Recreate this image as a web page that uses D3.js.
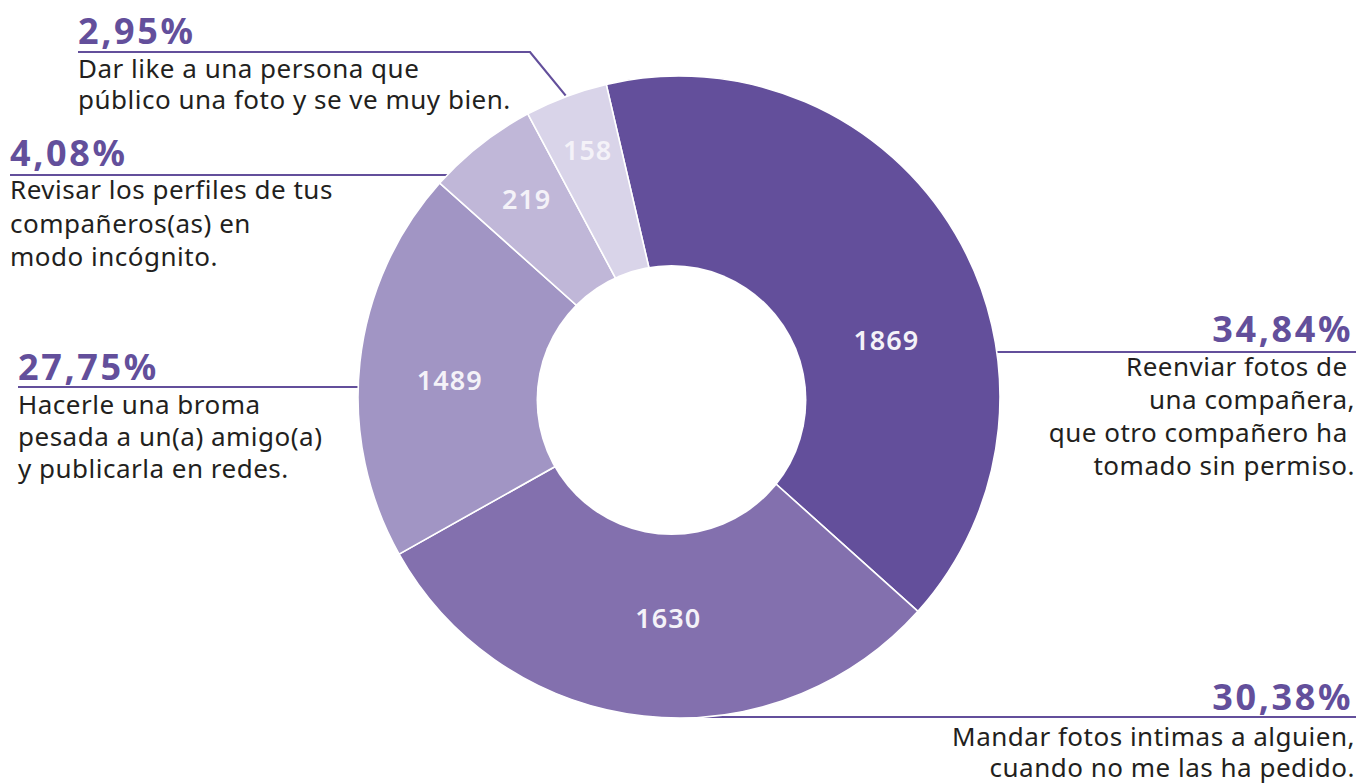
<!DOCTYPE html>
<html>
<head>
<meta charset="utf-8">
<script src="https://cdn.jsdelivr.net/npm/d3@7"></script>
<style>
body { margin: 0; background: #fff; }
text { font-family: "Noto Sans", sans-serif; }
</style>
</head>
<body>
<div id="grafico"></div>
<script>
const valores = [1869, 1630, 1489, 219, 158];
const porcentajes = ['34,84%', '30,38%', '27,75%', '4,08%', '2,95%'];
// amplitud (grados) de cada sector tal como está dibujado en el original
const grados = [145, 108.8, 71.1, 20.1, 15];
const descripciones = [
	['Reenviar fotos de ', 'una compañera,', 'que otro compañero ha ', 'tomado sin permiso.'],
	['Mandar fotos intimas a alguien,', 'cuando no me las ha pedido.'],
	['Hacerle una broma', 'pesada a un(a) amigo(a)', 'y publicarla en redes.'],
	['Revisar los perfiles de tus', 'compañeros(as) en', 'modo incógnito.'],
	['Dar like a una persona que', 'público una foto y se ve muy bien.']
];
const colores = ['#634f9b', '#8370ae', '#a195c4', '#c0b7d8', '#d9d4e9'];

const morado = '#634f9b';
const centro = {x: 679, y: 397};
const radio = 321;
const hueco = {x: 671.5, y: 400, r: 135};
const inicio = -13.1; // grados, desde arriba

// donde va cada bloque de texto
const bloques = [
	{ancla: 'end', x: 1353, xd: 1355, yPct: 342, yLinea: 352, extremo: 1356, yDesc: 376, paso: 33},
	{ancla: 'end', x: 1353, xd: 1355, yPct: 710, yLinea: 717, extremo: 1356, yDesc: 746, paso: 31},
	{ancla: 'start', x: 18, xd: 18, yPct: 380, yLinea: 387, extremo: 18, yDesc: 414, paso: 32},
	{ancla: 'start', x: 10, xd: 10, yPct: 166, yLinea: 175, extremo: 10, yDesc: 199, paso: 33.5},
	{ancla: 'start', x: 78, xd: 78, yPct: 44, yLinea: 52, extremo: 78, yDesc: 78, paso: 31, codo: 530}
];
// desplazamiento de los números dentro de cada sector
const ajuste = [{da: 15.2, r: 215}, {da: -3.5, r: 221}, {da: -1.8, r: 230}, {da: 0.6, r: 250}, {da: 0.35, r: 264}];

const rad = d => d * Math.PI / 180;

const svg = d3.select('#grafico').append('svg')
	.attr('width', 1359)
	.attr('height', 783);

const pastel = d3.pie()
	.sort(null)
	.value(i => grados[i])
	.startAngle(rad(inicio))
	.endAngle(rad(inicio + 360));
const sectores = pastel(d3.range(valores.length));

const arco = d3.arc().innerRadius(0).outerRadius(radio);

// líneas guía (debajo del pastel)
const guias = svg.append('g');
sectores.forEach((s, i) => {
	const b = bloques[i];
	let pts;
	if (b.codo) {
		const a = (s.startAngle + s.endAngle) / 2;
		const fin = [centro.x + (radio + 1) * Math.sin(a), centro.y - (radio + 1) * Math.cos(a)];
		pts = [[b.extremo, b.yLinea], [b.codo, b.yLinea], fin];
	} else {
		const dy = b.yLinea - centro.y;
		const dx = Math.sqrt(Math.max(0, radio * radio - dy * dy));
		const xc = b.ancla === 'end' ? centro.x + dx - 2 : centro.x - dx + 2;
		pts = [[b.extremo, b.yLinea], [xc, b.yLinea]];
	}
	guias.append('path')
		.attr('d', d3.line()(pts))
		.attr('fill', 'none')
		.attr('stroke', morado)
		.attr('stroke-width', 2.2);
});

const pie = svg.append('g')
	.attr('transform', `translate(${centro.x},${centro.y})`);
pie.selectAll('path')
	.data(sectores)
	.join('path')
		.attr('d', arco)
		.attr('fill', d => colores[d.data])
		.attr('stroke', '#fff')
		.attr('stroke-width', 1.6);

svg.append('circle')
	.attr('cx', hueco.x)
	.attr('cy', hueco.y)
	.attr('r', hueco.r)
	.attr('fill', '#fff');

// números dentro de los sectores
pie.selectAll('text')
	.data(sectores)
	.join('text')
		.attr('x', d => {
			const a = (d.startAngle + d.endAngle) / 2 + rad(ajuste[d.data].da);
			return ajuste[d.data].r * Math.sin(a);
		})
		.attr('y', d => {
			const a = (d.startAngle + d.endAngle) / 2 + rad(ajuste[d.data].da);
			return -ajuste[d.data].r * Math.cos(a);
		})
		.attr('text-anchor', 'middle')
		.attr('dominant-baseline', 'central')
		.attr('fill', '#f4f2f8')
		.attr('font-size', 27)
		.attr('font-weight', 600)
		.attr('letter-spacing', 1)
		.text(d => valores[d.data]);

// textos de cada categoría
bloques.forEach((b, i) => {
	svg.append('text')
		.attr('x', b.x)
		.attr('y', b.yPct)
		.attr('text-anchor', b.ancla)
		.attr('fill', morado)
		.attr('font-size', 36)
		.attr('font-weight', 'bold')
		.attr('letter-spacing', 2.6)
		.text(porcentajes[i]);
	descripciones[i].forEach((l, j) => {
		svg.append('text')
			.attr('x', b.xd)
			.attr('y', b.yDesc + j * b.paso)
			.attr('text-anchor', b.ancla)
			.attr('fill', '#231f20')
			.attr('font-size', 26)
			.attr('letter-spacing', 0.5)
			.style('white-space', 'pre')
			.text(l);
	});
});
</script>
</body>
</html>
